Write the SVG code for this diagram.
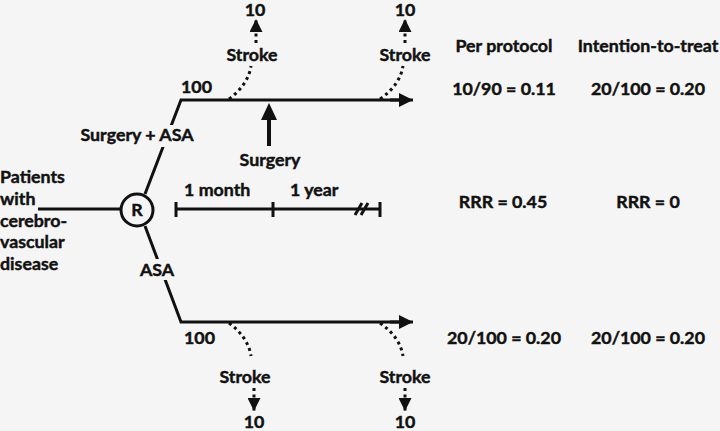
<svg xmlns="http://www.w3.org/2000/svg" width="720" height="431" viewBox="0 0 720 431">
<defs>
<style>
text{font-family:Lato,"Open Sans","Liberation Sans",sans-serif;font-weight:bold;font-size:17.8px;fill:#111;stroke:#111;stroke-width:0.45}
.m{text-anchor:middle}
.ln{stroke:#111;stroke-width:3;fill:none}
.dot{stroke:#111;stroke-width:3;fill:none;stroke-dasharray:3,3.5}
.bg{fill:#f5f5f5}
</style>
<marker id="ah" viewBox="0 0 10 10" refX="10" refY="5" markerWidth="14" markerHeight="14" markerUnits="userSpaceOnUse" orient="auto"><path d="M0,0 L10,5 L0,10 Z" fill="#111"/></marker>
<marker id="ahd" viewBox="0 0 10 10" refX="10" refY="5" markerWidth="13" markerHeight="13" markerUnits="userSpaceOnUse" orient="auto"><path d="M0,0 L10,5 L0,10 Z" fill="#111"/></marker>
</defs>
<rect width="720" height="431" fill="#f5f5f5"/>
<g id="connectors">
<line class="ln" x1="38" y1="209" x2="121" y2="209"/>
<polyline class="ln" points="145,194 181,100 400,100"/>
<line class="ln" x1="390" y1="100" x2="413" y2="100" marker-end="url(#ah)"/>
<polyline class="ln" points="145,226 181,322 400,322"/>
<line class="ln" x1="390" y1="322" x2="413" y2="322" marker-end="url(#ah)"/>
<path class="dot" d="M229,99 Q248,85 251,66"/>
<path class="dot" d="M380,99 Q400,85 403,66"/>
<path class="dot" d="M229,323 Q248,337 251,356"/>
<path class="dot" d="M380,323 Q400,337 403,356"/>
<line class="dot" x1="256" y1="43" x2="256" y2="19" marker-end="url(#ahd)"/>
<line class="dot" x1="405" y1="43" x2="405" y2="19" marker-end="url(#ahd)"/>
<line class="dot" x1="254" y1="388" x2="254" y2="411" marker-end="url(#ahd)"/>
<line class="dot" x1="405" y1="388" x2="405" y2="411" marker-end="url(#ahd)"/>
<line x1="269" y1="146" x2="269" y2="116" stroke="#111" stroke-width="4"/>
<path d="M261,120 L269,103 L277,120 Z" fill="#111"/>
</g>
<g id="timeline">
<line class="ln" x1="176" y1="209" x2="380" y2="209"/>
<line class="ln" x1="176" y1="202" x2="176" y2="217" stroke-width="2"/>
<line class="ln" x1="273" y1="202" x2="273" y2="217" stroke-width="2"/>
<line class="ln" x1="380" y1="202" x2="380" y2="217" stroke-width="2"/>
<line class="ln" x1="355" y1="215" x2="362" y2="203" stroke-width="2.5"/>
<line class="ln" x1="361" y1="215" x2="368" y2="203" stroke-width="2.5"/>
<text x="184" y="196">1 month</text>
<text x="290" y="196">1 year</text>
</g>
<g id="node-R">
<circle cx="137" cy="210" r="16" fill="#f5f5f5" stroke="#111" stroke-width="3"/>
<text class="m" x="137" y="216">R</text>
</g>
<g id="node-patients">
<text x="0" y="183">Patients</text>
<text x="0" y="205">with</text>
<text x="0" y="227">cerebro-</text>
<text x="0" y="248">vascular</text>
<text x="0" y="270">disease</text>
</g>
<g id="labels">
<rect class="bg" x="76" y="125" width="122" height="22"/>
<text class="m" x="137" y="141">Surgery + ASA</text>
<rect class="bg" x="139" y="259" width="37" height="21"/>
<text class="m" x="157" y="276">ASA</text>
<text x="181" y="93">100</text>
<text x="184" y="344">100</text>
<text class="m" x="270" y="166">Surgery</text>
<text class="m" x="252" y="61">Stroke</text>
<text class="m" x="405" y="61">Stroke</text>
<text class="m" x="255" y="16">10</text>
<text class="m" x="405" y="16">10</text>
<text class="m" x="245" y="383">Stroke</text>
<text class="m" x="405" y="383">Stroke</text>
<text class="m" x="254" y="428">10</text>
<text class="m" x="405" y="428">10</text>
</g>
<g id="results">
<text class="m" x="504" y="52">Per protocol</text>
<text class="m" x="648" y="52">Intention-to-treat</text>
<text class="m" x="504" y="95">10/90 = 0.11</text>
<text class="m" x="648" y="95">20/100 = 0.20</text>
<text class="m" x="503" y="208">RRR = 0.45</text>
<text class="m" x="648" y="208">RRR = 0</text>
<text class="m" x="504" y="344">20/100 = 0.20</text>
<text class="m" x="648" y="344">20/100 = 0.20</text>
</g>
</svg>
